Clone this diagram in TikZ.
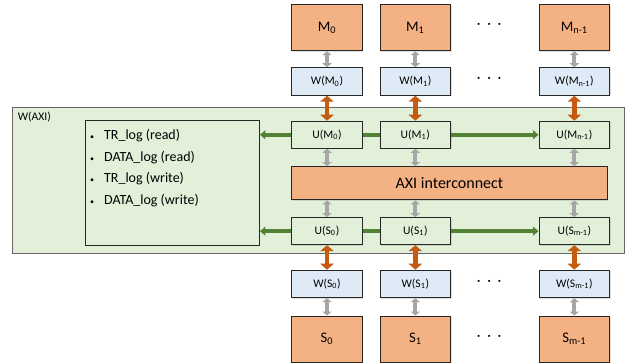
\documentclass[tikz,border=0pt]{standalone}
\usepackage{fontspec}
\setmainfont{Carlito}
\usetikzlibrary{positioning,arrows.meta,shadows,fit}

\definecolor{boxorange}{HTML}{F4B183}
\definecolor{boxblue}{HTML}{DEEBF7}
\definecolor{boxgreen}{HTML}{E2F0D9}
\definecolor{flowgreen}{HTML}{548235}
\definecolor{linkorange}{HTML}{C55A11}
\definecolor{linkgrey}{HTML}{A6A6A6}

\newcommand{\idx}[1]{\textsubscript{#1}}
\newcommand{\logitem}{\makebox[10.6pt][l]{\fontsize{6}{6}\selectfont\textbullet}}

\begin{document}
\begin{tikzpicture}[node distance=12.5pt and 12.5pt,
    box/.style={draw=black!85, line width=0.75pt, inner sep=0pt, minimum width=53pt,
      drop shadow={shadow xshift=0.7pt, shadow yshift=-0.7pt, opacity=0.25}},
    master/.style={box, fill=boxorange, minimum height=34.5pt, font=\fontsize{11}{13}\selectfont},
    wrap/.style={box, fill=boxblue, minimum height=20.6pt, font=\fontsize{8.7}{10}\selectfont},
    unit/.style={box, fill=boxgreen, minimum height=20.3pt, font=\fontsize{8.7}{10}\selectfont},
    core/.style={box, fill=boxorange, minimum width=236.7pt, minimum height=25pt, font=\fontsize{12}{14}\selectfont},
    dots/.style={inner sep=0pt, font=\fontsize{11}{13}\selectfont},
    thinlink/.style={draw=linkgrey, line width=2.8pt, {Triangle[width=7pt,length=3pt]}-{Triangle[width=7pt,length=3pt]}},
    thicklink/.style={draw=linkorange, line width=3.6pt, {Triangle[width=10pt,length=4.5pt]}-{Triangle[width=10pt,length=4.5pt]}},
    flowline/.style={draw=flowgreen, line width=3pt},
    flow/.style={flowline, -{Triangle[width=6.5pt,length=4pt]}}]

    \useasboundingbox (0,0) rectangle (477pt,-271.5pt);

    % Wrapper around the interconnect
    \node[box, draw=black!60, fill=boxgreen, minimum width=458.8pt, minimum height=109.5pt]
      (waxi) at (238.6pt,-135.25pt) {};
    \node[anchor=west, inner sep=0pt, font=\fontsize{8.7}{10}\selectfont]
      (waxilabel) at ([shift={(4.3pt,-8pt)}]waxi.north west) {W(AXI)};

    % Masters and their wrappers
    \node[master] (m0) at (245.25pt,-20.8pt) {M\idx{0}};
    \node[master, right=of m0] (m1) {M\idx{1}};
    \node[master, right=65.5pt of m1] (mn) {M\idx{n-1}};
    \node[wrap, below=12pt of m0] (wm0) {W(M\idx{0})};
    \node[wrap, below=12pt of m1] (wm1) {W(M\idx{1})};
    \node[wrap, below=12pt of mn] (wmn) {W(M\idx{n-1})};
    \node[unit, below=18.75pt of wm0] (um0) {U(M\idx{0})};
    \node[unit, below=18.75pt of wm1] (um1) {U(M\idx{1})};
    \node[unit, below=18.75pt of wmn] (umn) {U(M\idx{n-1})};

    % Interconnect
    \node[core, anchor=north west] (axi) at ([yshift=-13pt]um0.south west) {AXI interconnect};

    % Slaves and their wrappers
    \node[unit, anchor=north] (us0) at ([yshift=-12.5pt]axi.south -| um0) {U(S\idx{0})};
    \node[unit, anchor=north] (us1) at ([yshift=-12.5pt]axi.south -| um1) {U(S\idx{1})};
    \node[unit, anchor=north] (usn) at ([yshift=-12.5pt]axi.south -| umn) {U(S\idx{m-1})};
    \node[wrap, below=18.4pt of us0] (ws0) {W(S\idx{0})};
    \node[wrap, below=18.4pt of us1] (ws1) {W(S\idx{1})};
    \node[wrap, below=18.4pt of usn] (wsn) {W(S\idx{m-1})};
    \node[master, below=13pt of ws0] (s0) {S\idx{0}};
    \node[master, below=13pt of ws1] (s1) {S\idx{1}};
    \node[master, below=13pt of wsn] (sn) {S\idx{m-1}};

    % Log box
    \node[box, fill=boxgreen, fit={([xshift=-23.8pt]um0.north west) ([xshift=-154.3pt]us0.south west)}]
      (log) {};
    \node[anchor=north west, inner sep=0pt, align=left, font=\fontsize{10.5}{16.3}\selectfont]
      (loglist) at ([shift={(3.6pt,-6.5pt)}]log.north west)
      {\logitem TR\_log (read)\\
       \logitem DATA\_log (read)\\
       \logitem TR\_log (write)\\
       \logitem DATA\_log (write)};

    % Dots between columns
    \node[dots] (dm) at ([xshift=28.5pt,yshift=1pt]m1.east) {·\hspace{5pt}·\hspace{5pt}·};
    \node[dots] (dwm) at ([xshift=28.5pt,yshift=1pt]wm1.east) {·\hspace{5pt}·\hspace{5pt}·};
    \node[dots] (dws) at ([xshift=28.5pt,yshift=1pt]ws1.east) {·\hspace{5pt}·\hspace{5pt}·};
    \node[dots] (ds) at ([xshift=28.5pt,yshift=1pt]s1.east) {·\hspace{5pt}·\hspace{5pt}·};

    % Draw links
    \draw[thinlink] (m0) -- (wm0);
    \draw[thinlink] (m1) -- (wm1);
    \draw[thinlink] (mn) -- (wmn);
    \draw[thicklink] (wm0) -- (um0);
    \draw[thicklink] (wm1) -- (um1);
    \draw[thicklink] (wmn) -- (umn);
    \draw[thinlink] (um0) -- (um0 |- axi.north);
    \draw[thinlink] (um1) -- (um1 |- axi.north);
    \draw[thinlink] (umn) -- (umn |- axi.north);
    \draw[thinlink] (us0 |- axi.south) -- (us0);
    \draw[thinlink] (us1 |- axi.south) -- (us1);
    \draw[thinlink] (usn |- axi.south) -- (usn);
    \draw[thicklink] (us0) -- (ws0);
    \draw[thicklink] (us1) -- (ws1);
    \draw[thicklink] (usn) -- (wsn);
    \draw[thinlink] (ws0) -- (s0);
    \draw[thinlink] (ws1) -- (s1);
    \draw[thinlink] (wsn) -- (sn);

    % Draw log flows
    \draw[flow] (um0) -- (um0 -| log.east);
    \draw[flowline] (um0) -- (um1);
    \draw[flow] (um1) -- (umn);
    \draw[flow] (us0) -- (us0 -| log.east);
    \draw[flowline] (us0) -- (us1);
    \draw[flow] (us1) -- (usn);
  \end{tikzpicture}
\end{document}
